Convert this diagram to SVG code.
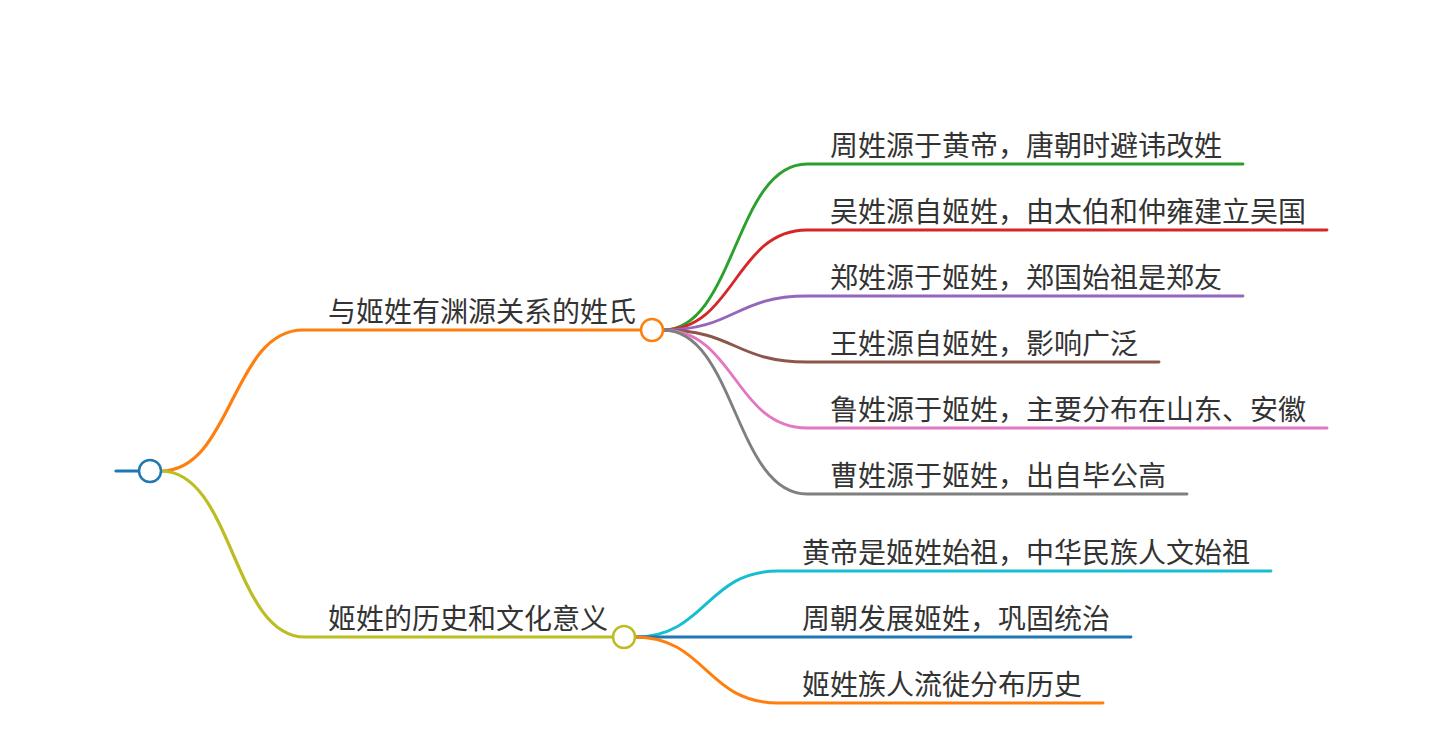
<svg xmlns="http://www.w3.org/2000/svg" width="1440" height="749" viewBox="0 0 1440 749">
<style>
text{font-family:"Noto Sans CJK SC","Noto Sans",sans-serif;font-size:28px;fill:#333}
.l{fill:none;stroke-linecap:round}
.c{fill:#fff;stroke-width:2.5}
.d1{stroke-width:3.2}
.d2{stroke-width:2.9}
</style>
<rect width="1440" height="749" fill="#fff"/>
<g id="connectors">
<path class="l d1" d="M116,471 L139,471" stroke="#1f77b4"/>
<path class="l d1" d="M161,471 C232,471 232,330 303,330 L641,330" stroke="#ff7f0e"/>
<path class="l d1" d="M161,471 C233,471 233,637 305,637 L613,637" stroke="#bcbd22"/>
<path class="l d2" d="M663,330 C735,330 735,164 807,164 L1243,164" stroke="#2ca02c"/>
<path class="l d2" d="M663,330 C735,330 735,230 807,230 L1327,230" stroke="#d62728"/>
<path class="l d2" d="M663,330 C735,330 735,296 807,296 L1243,296" stroke="#9467bd"/>
<path class="l d2" d="M663,330 C735,330 735,362 807,362 L1159,362" stroke="#8c564b"/>
<path class="l d2" d="M663,330 C735,330 735,428 807,428 L1327,428" stroke="#e377c2"/>
<path class="l d2" d="M663,330 C735,330 735,494 807,494 L1187,494" stroke="#7f7f7f"/>
<path class="l d2" d="M635,637 C706,637 706,571 778,571 L1271,571" stroke="#17becf"/>
<path class="l d2" d="M635,637 L1131,637" stroke="#1f77b4"/>
<path class="l d2" d="M635,637 C706,637 706,703 778,703 L1103,703" stroke="#ff7f0e"/>
</g>
<g id="root"><circle class="c" cx="150" cy="471" r="11" stroke="#1f77b4"/></g>
<g id="n1"><text x="328" y="322">与姬姓有渊源关系的姓氏</text><circle class="c" cx="652" cy="330" r="11" stroke="#ff7f0e"/></g>
<g id="n1a"><text x="830" y="156">周姓源于黄帝，唐朝时避讳改姓</text></g>
<g id="n1b"><text x="830" y="222">吴姓源自姬姓，由太伯和仲雍建立吴国</text></g>
<g id="n1c"><text x="830" y="288">郑姓源于姬姓，郑国始祖是郑友</text></g>
<g id="n1d"><text x="830" y="354">王姓源自姬姓，影响广泛</text></g>
<g id="n1e"><text x="830" y="420">鲁姓源于姬姓，主要分布在山东、安徽</text></g>
<g id="n1f"><text x="830" y="486">曹姓源于姬姓，出自毕公高</text></g>
<g id="n2"><text x="328" y="629">姬姓的历史和文化意义</text><circle class="c" cx="624" cy="637" r="11" stroke="#bcbd22"/></g>
<g id="n2a"><text x="802" y="563">黄帝是姬姓始祖，中华民族人文始祖</text></g>
<g id="n2b"><text x="802" y="629">周朝发展姬姓，巩固统治</text></g>
<g id="n2c"><text x="802" y="695">姬姓族人流徙分布历史</text></g>
</svg>
